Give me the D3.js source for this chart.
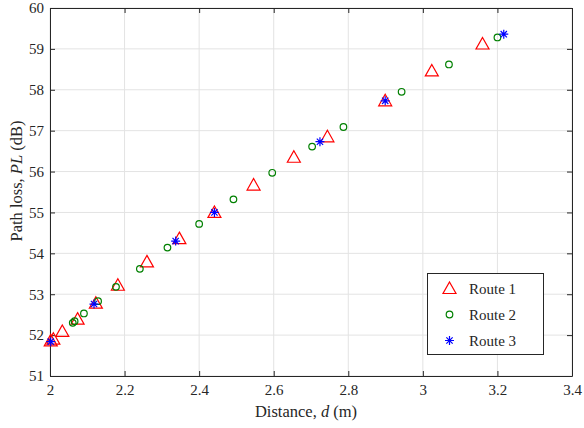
<!DOCTYPE html>
<html>
<head>
<meta charset="utf-8">
<script src="https://cdn.jsdelivr.net/npm/d3@7"></script>
<style>
  body { margin: 0; background: #fff; }
  svg text { font-family: "Liberation Serif", "DejaVu Serif", "Times New Roman", serif !important; fill: #262626; }
</style>
</head>
<body>
<div id="chart"></div>
<script>
var width = 584;
var height = 428;

// data
var route1_d  = [2.002, 2.009, 2.033, 2.074, 2.123, 2.182, 2.260, 2.347, 2.441, 2.546, 2.654, 2.744, 2.899, 3.024, 3.160];
var route1_pl = [51.86, 51.90, 52.09, 52.39, 52.78, 53.22, 53.79, 54.36, 55.00, 55.67, 56.35, 56.85, 57.73, 58.46, 59.12];

var route2_d  = [2.061, 2.066, 2.091, 2.129, 2.177, 2.241, 2.315, 2.400, 2.492, 2.596, 2.703, 2.787, 2.943, 3.070, 3.200];
var route2_pl = [52.30, 52.34, 52.53, 52.83, 53.18, 53.62, 54.14, 54.72, 55.32, 55.97, 56.61, 57.09, 57.95, 58.62, 59.28];

var route3_d  = [2.002, 2.118, 2.337, 2.441, 2.724, 2.899, 3.217];
var route3_pl = [51.84, 52.76, 54.30, 55.00, 56.73, 57.73, 59.36];

var xTicks = [2, 2.2, 2.4, 2.6, 2.8, 3, 3.2, 3.4];
var yTicks = [51, 52, 53, 54, 55, 56, 57, 58, 59, 60];
var legendNames = ["Route 1", "Route 2", "Route 3"];

var margin = {left: 50, right: 12, top: 8, bottom: 52};
var x = d3.scaleLinear().domain([2, 3.4]).range([margin.left, width - margin.right]);
var y = d3.scaleLinear().domain([51, 60]).range([height - margin.bottom, margin.top]);

var svg = d3.select("#chart").append("svg").attr("width", width).attr("height", height);

// grid
svg.append("g").selectAll("line").data(xTicks).enter().append("line")
    .attr("x1", d => x(d)).attr("x2", d => x(d))
    .attr("y1", y(51)).attr("y2", y(60))
    .attr("stroke", "#e3e3e3").attr("stroke-width", 1);
svg.append("g").selectAll("line").data(yTicks).enter().append("line")
    .attr("x1", x(2)).attr("x2", x(3.4))
    .attr("y1", d => y(d)).attr("y2", d => y(d))
    .attr("stroke", "#e3e3e3").attr("stroke-width", 1);

// axes, ticks pointing inward (box on)
var axB = svg.append("g").attr("transform", "translate(0," + y(51) + ")")
    .call(d3.axisBottom(x).tickValues(xTicks).tickSizeInner(-5).tickSizeOuter(0).tickPadding(8).tickFormat(d3.format("")));
var axT = svg.append("g").attr("transform", "translate(0," + y(60) + ")")
    .call(d3.axisTop(x).tickValues(xTicks).tickSizeInner(-5).tickSizeOuter(0).tickFormat(""));
var axL = svg.append("g").attr("transform", "translate(" + x(2) + ",0)")
    .call(d3.axisLeft(y).tickValues(yTicks).tickSizeInner(-5).tickSizeOuter(0).tickPadding(6));
var axR = svg.append("g").attr("transform", "translate(" + x(3.4) + ",0)")
    .call(d3.axisRight(y).tickValues(yTicks).tickSizeInner(-5).tickSizeOuter(0).tickFormat(""));

[axB, axT, axL, axR].forEach(function(a){
    a.attr("font-family", null).attr("font-size", null);
    a.select(".domain").attr("stroke", "#262626").attr("stroke-width", 1);
    a.selectAll(".tick line").attr("stroke", "#262626");
    a.selectAll("text").style("font-size", "15px").attr("fill", "#262626");
});

// axis labels
var xl = svg.append("text")
    .attr("x", 306).attr("y", 417)
    .attr("text-anchor", "middle").style("font-size", "16.5px");
xl.append("tspan").text("Distance, ");
xl.append("tspan").style("font-style", "italic").text("d");
xl.append("tspan").text(" (m)");

var yl = svg.append("text")
    .attr("transform", "translate(22,181) rotate(-90)")
    .attr("text-anchor", "middle").style("font-size", "16.5px");
yl.append("tspan").text("Path loss, ");
yl.append("tspan").style("font-style", "italic").text("PL");
yl.append("tspan").text(" (dB)");

// marker drawers
function triangle(g, cx, cy){
    g.append("path")
        .attr("d", "M" + cx + "," + (cy - 6.5) + "L" + (cx + 6.5) + "," + (cy + 5) + "L" + (cx - 6.5) + "," + (cy + 5) + "Z")
        .attr("fill", "none").attr("stroke", "#ff0000").attr("stroke-width", 1.2);
}
function circle(g, cx, cy){
    g.append("circle").attr("cx", cx).attr("cy", cy).attr("r", 3.3)
        .attr("fill", "none").attr("stroke", "#008000").attr("stroke-width", 1.2);
}
function asterisk(g, cx, cy){
    var r = 4.5;
    var p = "M" + (cx - r) + "," + cy + "H" + (cx + r) +
            "M" + cx + "," + (cy - r) + "V" + (cy + r) +
            "M" + (cx - r * 0.7) + "," + (cy - r * 0.7) + "L" + (cx + r * 0.7) + "," + (cy + r * 0.7) +
            "M" + (cx - r * 0.7) + "," + (cy + r * 0.7) + "L" + (cx + r * 0.7) + "," + (cy - r * 0.7);
    g.append("path").attr("d", p).attr("fill", "none").attr("stroke", "#0000ff").attr("stroke-width", 1.2);
}

var pts = svg.append("g");
for (var i = 0; i < route1_d.length; i++) triangle(pts, x(route1_d[i]), y(route1_pl[i]));
for (var i = 0; i < route2_d.length; i++) circle(pts, x(route2_d[i]), y(route2_pl[i]));
for (var i = 0; i < route3_d.length; i++) asterisk(pts, x(route3_d[i]), y(route3_pl[i]));

// legend
var lg = svg.append("g");
lg.append("rect").attr("x", 427.5).attr("y", 273.5).attr("width", 116).attr("height", 81)
    .attr("fill", "#fff").attr("stroke", "#262626").attr("stroke-width", 1);
var drawers = [triangle, circle, asterisk];
legendNames.forEach(function(n, k){
    var ly = 288.5 + k * 26;
    drawers[k](lg, 449.5, ly);
    lg.append("text").attr("x", 469).attr("y", ly + 5).style("font-size", "15px").text(n);
});
</script>
</body>
</html>
